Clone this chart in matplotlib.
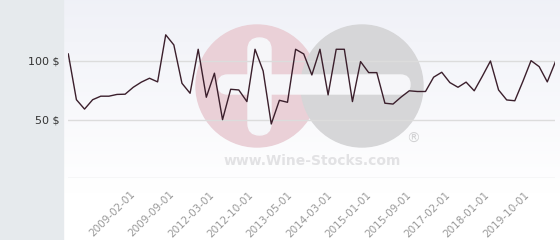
import matplotlib
matplotlib.use("Agg")
import matplotlib.pyplot as plt
import numpy as np
from matplotlib.patches import Circle, FancyBboxPatch, Rectangle

# price per bottle, one value per category (61 points)
PRICES = [106, 67, 59, 67, 70, 70, 71.5, 71.7, 77.6, 82, 85.3, 82.2, 122.3, 113.7,
          81, 72.5, 110, 69.1, 89.6, 50, 75.9, 75.3, 65.4, 110, 91.5, 46.3, 66.5,
          64.8, 110, 106, 88.1, 110, 71.1, 110, 110, 65.4, 99.5, 90.1, 90.1, 64,
          63.3, 69.3, 74.6, 74, 74, 86.2, 90.4, 81.6, 77.6, 82, 74.6, 87, 100,
          75.3, 66.8, 66.1, 82.7, 100.3, 95.2, 82.2, 99.3]
DATE_LABELS = ["2009-02-01", "2009-09-01", "2012-03-01", "2012-10-01", "2013-05-01",
               "2014-03-01", "2015-01-01", "2015-09-01", "2017-02-01", "2018-01-01",
               "2019-10-01"]
Y_TICKS = [0, 50, 100]
Y_LABELS = ["", "50 $", "100 $"]

W, H = 560, 240
fig = plt.figure(figsize=(W / 100, H / 100), dpi=100)

# background: grey left panel, soft gradient plot area, watermark
bg = fig.add_axes([0, 0, 1, 1], zorder=0)
bg.set_xlim(0, W)
bg.set_ylim(H, 0)
bg.axis("off")
grad = np.linspace(0, 1, 200)[:, None]
top = np.array([0.940, 0.945, 0.970])
bot = np.array([1.0, 1.0, 1.0])
img = top + (bot - top) * np.clip(grad * 1.25, 0, 1)[..., None]
bg.imshow(img.reshape(200, 1, 3), extent=[63, W, H, 0], aspect="auto", zorder=0)
bg.add_patch(Rectangle((0, 0), 63, H, color="#e6eaed", zorder=1))

bg.add_patch(Circle((257, 86), 61, color="#ead0d7", zorder=2))
bg.add_patch(Circle((362, 86), 61, color="#d6d6d8", zorder=3))
bg.add_patch(FancyBboxPatch((218, 75), 192, 19, boxstyle="round,pad=0,rounding_size=9.5",
                            color="#f6f6f9", zorder=4))
bg.add_patch(FancyBboxPatch((248, 38), 23, 97, boxstyle="round,pad=0,rounding_size=11.5",
                            color="#f6f6f9", zorder=4))
bg.text(312, 161, "www.Wine-Stocks.com", ha="center", va="center", fontsize=10,
        fontweight="bold", color="#e2e2e4", zorder=5)
bg.text(413, 139, "®", ha="center", va="center", fontsize=10, color="#d2d2d4", zorder=5)

# main chart
left, right, y0 = 68.3, 555.4, 178.3
ax = fig.add_axes([left / W, 1 - y0 / H, (right - left) / W, y0 / H], zorder=1)
ax.patch.set_alpha(0)
x = np.arange(len(PRICES))
ax.plot(x, PRICES, color="#3b1f2c", lw=1.0, zorder=3)
ax.set_xlim(0, len(PRICES) - 1)
ax.set_ylim(0, 152)

ax.set_yticks(Y_TICKS, Y_LABELS, fontsize=8, color="#333333")
for v in Y_TICKS:
    ax.axhline(v, color="#dcdcdc", lw=1, zorder=1)
ax.tick_params(axis="y", length=0, pad=6.5)

tick_pos = 7.6 + 4.853 * np.arange(len(DATE_LABELS))
ax.set_xticks(tick_pos, DATE_LABELS, fontsize=7.5, color="#999999",
              rotation=45, ha="right", rotation_mode="anchor")
ax.tick_params(axis="x", length=0, pad=8)
for s in ax.spines.values():
    s.set_visible(False)

fig.savefig("out.png", dpi=100)
